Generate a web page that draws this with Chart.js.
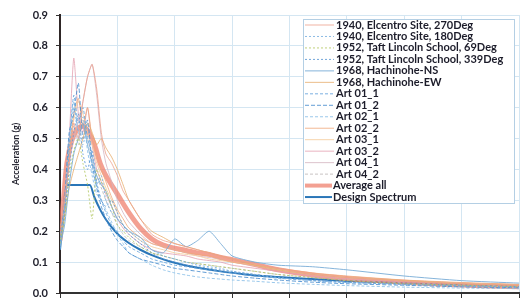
<!DOCTYPE html>
<html>
<head>
<meta charset="utf-8">
<script src="https://cdn.jsdelivr.net/npm/chart.js@4.4.1/dist/chart.umd.min.js"></script>
<style>
  html, body { margin: 0; padding: 0; background: #fff; }
  #wrap { width: 521px; height: 298px; position: relative; }
</style>
</head>
<body>
<div id="wrap"><canvas id="chart" width="521" height="298"></canvas></div>
<script>
// period (s) shared by the record spectra
const periods = [0, 0.04, 0.08, 0.12, 0.16, 0.2, 0.24, 0.28, 0.32, 0.36, 0.4, 0.45, 0.5, 0.55, 0.6, 0.7, 0.8, 0.9, 1.0, 1.1, 1.2, 1.3, 1.4, 1.5, 1.7, 1.9, 2.2, 2.5, 3.0, 3.5, 4.0];

// spectral acceleration (g)
const elcentro270 = [0.21,0.30,0.42,0.55,0.50,0.62,0.70,0.74,0.66,0.52,0.45,0.42,0.38,0.33,0.30,0.24,0.19,0.17,0.16,0.15,0.14,0.13,0.12,0.11,0.095,0.08,0.06,0.05,0.038,0.03,0.025];
const elcentro180 = [0.18,0.28,0.45,0.60,0.52,0.48,0.55,0.40,0.35,0.38,0.30,0.26,0.24,0.22,0.20,0.17,0.14,0.12,0.11,0.10,0.09,0.085,0.08,0.07,0.06,0.05,0.04,0.035,0.028,0.022,0.018];
const taft69 = [0.16,0.24,0.38,0.46,0.50,0.42,0.35,0.24,0.40,0.36,0.33,0.28,0.22,0.20,0.18,0.15,0.13,0.12,0.11,0.10,0.095,0.09,0.085,0.08,0.07,0.06,0.05,0.04,0.03,0.025,0.02];
const taft339 = [0.17,0.26,0.40,0.52,0.58,0.45,0.40,0.46,0.36,0.30,0.28,0.30,0.26,0.22,0.19,0.16,0.13,0.11,0.10,0.09,0.085,0.08,0.075,0.07,0.06,0.05,0.042,0.035,0.03,0.025,0.02];
const hachiNS = [0.15,0.22,0.35,0.45,0.50,0.55,0.48,0.42,0.38,0.35,0.33,0.28,0.24,0.22,0.20,0.18,0.14,0.13,0.175,0.15,0.17,0.20,0.16,0.12,0.10,0.09,0.085,0.075,0.055,0.04,0.032];
const hachiEW = [0.18,0.25,0.34,0.40,0.45,0.50,0.55,0.52,0.48,0.50,0.47,0.44,0.40,0.35,0.30,0.24,0.20,0.18,0.16,0.15,0.14,0.13,0.12,0.11,0.09,0.075,0.06,0.05,0.04,0.03,0.025];
const art011 = [0.15,0.25,0.48,0.64,0.55,0.60,0.50,0.45,0.35,0.30,0.26,0.22,0.20,0.17,0.15,0.13,0.11,0.10,0.09,0.085,0.08,0.075,0.07,0.065,0.055,0.048,0.04,0.034,0.028,0.023,0.02];
const art012 = [0.16,0.30,0.52,0.58,0.68,0.50,0.56,0.42,0.34,0.28,0.24,0.20,0.17,0.15,0.13,0.11,0.10,0.09,0.08,0.075,0.07,0.065,0.06,0.055,0.048,0.042,0.035,0.03,0.025,0.02,0.017];
const art021 = [0.14,0.28,0.50,0.62,0.52,0.57,0.46,0.38,0.32,0.30,0.27,0.23,0.19,0.16,0.13,0.11,0.09,0.075,0.065,0.058,0.052,0.048,0.045,0.042,0.038,0.033,0.028,0.024,0.019,0.016,0.014];
const art022 = [0.17,0.30,0.45,0.58,0.63,0.54,0.60,0.50,0.45,0.40,0.36,0.31,0.27,0.24,0.21,0.18,0.16,0.15,0.14,0.13,0.125,0.12,0.11,0.10,0.09,0.08,0.065,0.055,0.042,0.034,0.028];
const art031 = [0.16,0.28,0.48,0.56,0.62,0.58,0.52,0.48,0.42,0.38,0.34,0.30,0.26,0.22,0.20,0.17,0.15,0.14,0.13,0.125,0.12,0.11,0.105,0.10,0.09,0.075,0.06,0.05,0.04,0.032,0.027];
const art032 = [0.18,0.32,0.50,0.76,0.58,0.52,0.60,0.48,0.40,0.36,0.32,0.28,0.24,0.21,0.19,0.16,0.14,0.13,0.125,0.12,0.11,0.105,0.10,0.09,0.08,0.07,0.055,0.047,0.036,0.03,0.025];
const art041 = [0.17,0.28,0.42,0.50,0.56,0.62,0.70,0.74,0.64,0.50,0.42,0.36,0.30,0.26,0.23,0.19,0.16,0.15,0.14,0.13,0.12,0.115,0.11,0.10,0.088,0.075,0.06,0.05,0.04,0.032,0.027];
const art042 = [0.15,0.26,0.44,0.54,0.48,0.56,0.50,0.44,0.38,0.34,0.30,0.26,0.22,0.19,0.17,0.15,0.13,0.12,0.11,0.10,0.095,0.09,0.085,0.08,0.07,0.06,0.05,0.042,0.033,0.027,0.022];

// average of all records
const avgPeriods = [0, 0.03, 0.06, 0.1, 0.15, 0.2, 0.25, 0.3, 0.35, 0.4, 0.5, 0.6, 0.7, 0.8, 0.9, 1.0, 1.1, 1.2, 1.3, 1.4, 1.5, 1.7, 1.9, 2.2, 2.5, 3.0, 3.5, 4.0];
const avgValues = [0.17, 0.30, 0.42, 0.49, 0.53, 0.54, 0.52, 0.48, 0.42, 0.38, 0.32, 0.26, 0.21, 0.175, 0.155, 0.145, 0.138, 0.13, 0.125, 0.115, 0.108, 0.092, 0.075, 0.058, 0.047, 0.035, 0.026, 0.02];

// design spectrum
const designPeriods = [0, 0.06, 0.26, 0.3, 0.35, 0.4, 0.5, 0.6, 0.7, 0.8, 0.9, 1.0, 1.2, 1.4, 1.6, 1.8, 2.0, 2.5, 3.0, 3.5, 4.0];
const designValues = [0.14, 0.35, 0.35, 0.31, 0.27, 0.238, 0.192, 0.162, 0.14, 0.1225, 0.109, 0.098, 0.082, 0.07, 0.061, 0.054, 0.049, 0.039, 0.033, 0.028, 0.0245];

const yTicks = [0.0, 0.1, 0.2, 0.3, 0.4, 0.5, 0.6, 0.7, 0.8, 0.9];

const records = [
  { label: "1940, Elcentro Site, 270Deg", data: elcentro270, color: "rgba(236,160,140,0.8)", dash: [] },
  { label: "1940, Elcentro Site, 180Deg", data: elcentro180, color: "rgba(120,176,224,0.85)", dash: [2, 2] },
  { label: "1952, Taft Lincoln School, 69Deg", data: taft69, color: "rgba(180,200,100,0.85)", dash: [2, 2] },
  { label: "1952, Taft Lincoln School, 339Deg", data: taft339, color: "rgba(90,150,212,0.85)", dash: [2, 2] },
  { label: "1968, Hachinohe-NS", data: hachiNS, color: "rgba(120,172,214,0.9)", dash: [] },
  { label: "1968, Hachinohe-EW", data: hachiEW, color: "rgba(230,172,108,0.8)", dash: [] },
  { label: "Art 01_1", data: art011, color: "rgba(100,162,220,0.85)", dash: [3, 2] },
  { label: "Art 01_2", data: art012, color: "rgba(72,140,206,0.85)", dash: [4, 2] },
  { label: "Art 02_1", data: art021, color: "rgba(136,190,232,0.85)", dash: [3, 2] },
  { label: "Art 02_2", data: art022, color: "rgba(240,168,120,0.8)", dash: [] },
  { label: "Art 03_1", data: art031, color: "rgba(244,204,158,0.85)", dash: [] },
  { label: "Art 03_2", data: art032, color: "rgba(228,160,176,0.8)", dash: [] },
  { label: "Art 04_1", data: art041, color: "rgba(212,180,192,0.8)", dash: [] },
  { label: "Art 04_2", data: art042, color: "rgba(190,184,184,0.85)", dash: [3, 2] }
];

const datasets = records.map(r => ({
  label: r.label,
  data: r.data.map((v, i) => ({ x: periods[i], y: v })),
  borderColor: r.color,
  borderWidth: 1,
  borderDash: r.dash,
  pointRadius: 0,
  tension: 0.2
}));

datasets.push({
  label: "Average all",
  data: avgValues.map((v, i) => ({ x: avgPeriods[i], y: v })),
  borderColor: "rgba(238,120,100,0.7)",
  borderWidth: 5,
  pointRadius: 0,
  tension: 0.3
});

datasets.push({
  label: "Design Spectrum",
  data: designValues.map((v, i) => ({ x: designPeriods[i], y: v })),
  borderColor: "#2a76b8",
  borderWidth: 2,
  pointRadius: 0,
  cubicInterpolationMode: "monotone"
});

// legend box drawn inside the plot, top right
const legendBox = {
  id: "legendBox",
  afterDraw(chart) {
    const ctx = chart.ctx;
    const x0 = 303, y0 = 19, w = 211, h = 184, row = 11.47;
    ctx.save();
    ctx.setLineDash([]);
    ctx.fillStyle = "#fff";
    ctx.fillRect(x0, y0, w, h);
    ctx.strokeStyle = "#b4cfe4";
    ctx.lineWidth = 1;
    ctx.strokeRect(x0 + 0.5, y0 + 0.5, w, h);
    ctx.font = "bold 11px Lato";
    ctx.textBaseline = "middle";
    chart.data.datasets.forEach((ds, i) => {
      const y = y0 + 6 + i * row;
      const last = i >= 14;
      ctx.strokeStyle = ds.borderColor;
      ctx.lineWidth = Math.min(ds.borderWidth, 4);
      ctx.setLineDash(ds.borderDash || []);
      ctx.beginPath();
      ctx.moveTo(x0 + 2, y);
      ctx.lineTo(last ? x0 + 29 : x0 + 31, y);
      ctx.stroke();
      ctx.fillStyle = "#1c1c2a";
      ctx.fillText(ds.label, last ? x0 + 30 : x0 + 33, y);
    });
    ctx.restore();
  }
};

new Chart(document.getElementById("chart"), {
  type: "line",
  data: { datasets: datasets },
  options: {
    responsive: false,
    animation: false,
    layout: { padding: { top: 15, right: 2, bottom: 0, left: 0 } },
    plugins: { legend: { display: false }, tooltip: { enabled: false } },
    scales: {
      x: {
        type: "linear",
        min: 0,
        max: 4,
        ticks: { display: false, stepSize: 0.5 },
        grid: { color: "#d4e6f2", tickColor: "#333", tickLength: 5 },
        border: { color: "#333", width: 2 },
        afterFit(scale) { scale.height = 5; }
      },
      y: {
        min: 0,
        max: 0.9,
        afterBuildTicks(scale) { scale.ticks = yTicks.map(v => ({ value: v })); },
        ticks: {
          color: "#22222e",
          font: { family: "Lato", size: 11, weight: "bold" },
          padding: 8,
          callback: v => v.toFixed(1)
        },
        grid: { color: "#d4e6f2", tickColor: "#333", tickLength: 4 },
        border: { color: "#2e2626", width: 2 },
        title: {
          display: true,
          text: "Acceleration (g)",
          color: "#22222e",
          font: { family: "Lato", size: 9, weight: "bold" },
          padding: { top: 11, bottom: 0 }
        },
        afterFit(scale) {
          scale.width = 60;
          scale.paddingTop = 0;
          scale.paddingBottom = 0;
        }
      }
    }
  },
  plugins: [legendBox]
});
</script>
</body>
</html>
